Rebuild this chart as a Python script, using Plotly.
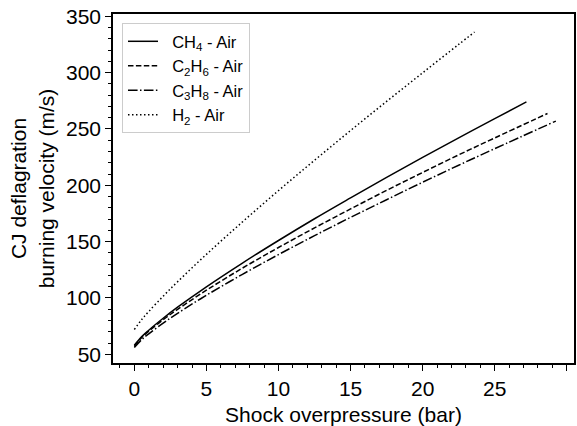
import plotly.graph_objects as go

# Shock overpressure (bar) and CJ deflagration burning velocity (m/s)
ch4_x = [0, 0.5, 1, 2, 3, 5, 7.5, 10, 12.5, 15, 17.5, 20, 22.5, 25, 27.2]
ch4_y = [58, 65.5, 71.4, 82, 91.8, 109.9, 131, 151, 170.3, 188.8, 207, 224.7, 242.1, 259.1, 274]

c2h6_x = [0, 0.5, 1, 2, 3, 5, 7.5, 10, 12.5, 15, 17.5, 20, 22.5, 25, 28.66]
c2h6_y = [57, 64.7, 70.5, 80.7, 89.9, 106.9, 126.5, 144.8, 162.2, 179, 195.5, 211.4, 227, 242, 263.7]

c3h8_x = [0, 0.5, 1, 2, 3, 5, 7.5, 10, 12.5, 15, 17.5, 20, 22.5, 25, 29.24]
c3h8_y = [56, 62.9, 68.2, 77.7, 86.4, 102.4, 121, 138.5, 155.3, 171.5, 187.2, 202.7, 217.8, 232.5, 257]

h2_x = [0, 0.5, 1, 2, 3, 5, 7.5, 10, 12.5, 15, 17.5, 20, 22.5, 23.6]
h2_y = [72, 80.7, 88, 101.6, 114.4, 138.7, 167.5, 195.3, 222.2, 248.6, 274.4, 299.8, 325, 336]

names = ["\u00a0\u00a0CH<sub>4</sub> - Air", "\u00a0\u00a0C<sub>2</sub>H<sub>6</sub> - Air",
         "\u00a0\u00a0C<sub>3</sub>H<sub>8</sub> - Air", "\u00a0\u00a0H<sub>2</sub> - Air"]
dashes = ["solid", "5.5px,2.4px", "9.6px,2.4px,1.5px,2.4px", "1.5px,2.5px"]

x_ticks = [0, 5, 10, 15, 20, 25, 30]
y_ticks = [50, 100, 150, 200, 250, 300, 350]

FONT = "Arial, Liberation Sans, sans-serif"

fig = go.Figure()
for xs, ys, nm, ds in zip([ch4_x, c2h6_x, c3h8_x, h2_x], [ch4_y, c2h6_y, c3h8_y, h2_y], names, dashes):
    fig.add_trace(go.Scatter(x=xs, y=ys, name=nm, mode="lines",
                             line=dict(color="black", width=1.5, dash=ds, shape="spline")))

axis_common = dict(showline=True, linecolor="black", linewidth=1.5, mirror=True,
                   ticks="outside", ticklen=6, tickwidth=1.2, tickcolor="black",
                   showgrid=False, zeroline=False, automargin=True,
                   tickfont=dict(family=FONT, size=21, color="black"))

fig.update_xaxes(range=[-1.48, 30.5], tickvals=x_ticks,
                 minor=dict(dtick=1, ticks="outside", ticklen=3, tickwidth=1, tickcolor="black"),
                 title=dict(text="Shock overpressure (bar)", font=dict(family=FONT, size=21, color="black"), standoff=9),
                 **axis_common)
fig.update_yaxes(range=[42.3, 352], tickvals=y_ticks,
                 minor=dict(dtick=10, ticks="outside", ticklen=3, tickwidth=1, tickcolor="black"),
                 title=dict(text="CJ deflagration<br>burning velocity (m/s)", font=dict(family=FONT, size=21, color="black"), standoff=6),
                 **axis_common)

fig.update_layout(
    width=577, height=426,
    margin=dict(l=113, r=3, t=14, b=63, autoexpand=False),
    paper_bgcolor="white", plot_bgcolor="white",
    font=dict(family=FONT, color="black"),
    legend=dict(x=0.0195, y=0.974, xanchor="left", yanchor="top",
                bgcolor="white", bordercolor="#cccccc", borderwidth=1,
                font=dict(family=FONT, size=16.5, color="black"),
                tracegroupgap=0, itemwidth=30),
    showlegend=True,
)

fig.write_html("out.html", config={"displayModeBar": False},
               post_script="document.body.style.margin='0';")
